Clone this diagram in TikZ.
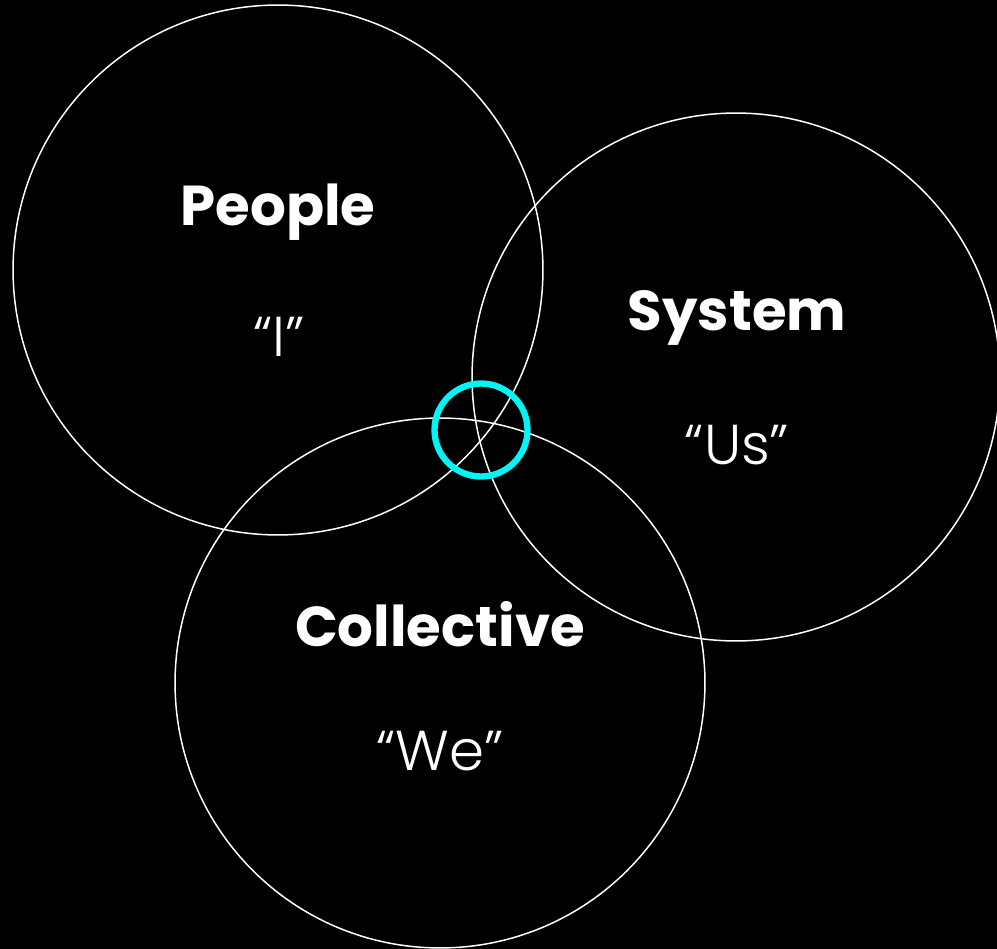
\documentclass[tikz,border=0pt]{standalone}
\usepackage{fontspec}
\setmainfont{Poppins}
\newfontfamily\lightfont{Poppins Light}
\definecolor{turquoise}{RGB}{0,245,245}

\begin{document}
\begin{tikzpicture}
  [x=0.02cm, y=-0.02cm,
  cercle/.style={
    draw=white,
    circle,
    minimum size=10.6cm,
    inner sep=0pt,
    line width=0.85pt}, titre/.style={
    text=white,
    font=\fontsize{32}{36}\selectfont\bfseries}, mot/.style={
    text=white,
    font=\fontsize{32}{36}\selectfont\lightfont}]

  \fill [black] (0,0) rectangle (997,949);
  \useasboundingbox (0,0) rectangle (997,949);

  \node [cercle] at (278,270) (people) {};
  \node [cercle, minimum size=10.56cm] at (736,377) (system) {};
  \node [cercle] at (440,683) (collective) {};

  \node [titre] at (278,212) (peopletitre) {People};
  \node [mot] at (279,337) (peoplemot) {“I”};

  \node [titre] at (737,318) (systemtitre) {System};
  \node [mot] at (737,445) (systemmot) {“Us”};

  \node [titre] at (440,624) (collectivetitre) {Collective};
  \node [mot] at (440,751) (collectivemot) {“We”};

  \node [draw=turquoise, circle, minimum size=1.86cm, line width=3.6pt] at (481,430) (centre) {};
\end{tikzpicture}
\end{document}
